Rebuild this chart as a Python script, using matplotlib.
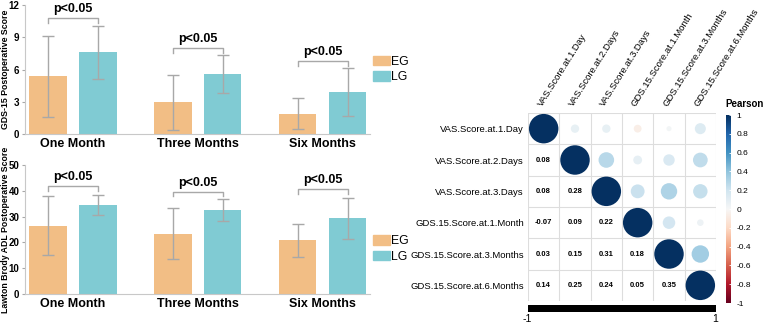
import numpy as np
import matplotlib
matplotlib.use('Agg')
import matplotlib.pyplot as plt
from matplotlib.patches import Patch, Circle, Rectangle
from matplotlib.colors import Normalize

plt.rcParams['font.family'] = ['Liberation Sans', 'DejaVu Sans']

# ---------- data ----------
timepoints = ['One Month', 'Three Months', 'Six Months']
groups = ['EG', 'LG']

gds_eg = [5.35, 2.95, 1.90]
gds_eg_sd = [3.77, 2.55, 1.44]
gds_lg = [7.60, 5.60, 3.92]
gds_lg_sd = [2.48, 1.74, 2.22]
gds_bracket = [10.8, 8.0, 6.8]

adl_eg = [26.4, 23.3, 20.9]
adl_eg_sd = [11.4, 9.85, 6.4]
adl_lg = [34.4, 32.6, 29.3]
adl_lg_sd = [3.85, 4.2, 8.1]
adl_bracket = [41.9, 39.7, 40.7]

var_names = ['VAS.Score.at.1.Day', 'VAS.Score.at.2.Days', 'VAS.Score.at.3.Days',
             'GDS.15.Score.at.1.Month', 'GDS.15.Score.at.3.Months', 'GDS.15.Score.at.6.Months']
lower_tri = [
    [],
    [0.08],
    [0.08, 0.28],
    [-0.07, 0.09, 0.22],
    [0.03, 0.15, 0.31, 0.18],
    [0.14, 0.25, 0.24, 0.05, 0.35],
]

EG_COLOR = '#F2BE85'
LG_COLOR = '#80CBD3'
GRAY = '#A8A8A8'

W, H = 767, 324
fig = plt.figure(figsize=(W / 100, H / 100), dpi=100)


def px_axes(x0, y0, x1, y1):
    return fig.add_axes([x0 / W, 1 - y1 / H, (x1 - x0) / W, (y1 - y0) / H])


def bar_panel(ax, eg, eg_sd, lg, lg_sd, brackets, ymax, yticks, ylabel, drop, txt_off, leg_y):
    x = np.arange(len(timepoints))
    w = 0.30
    off = 0.2
    ek = dict(ecolor=GRAY, elinewidth=1.0, capsize=4.3, capthick=1.0)
    ax.bar(x - off, eg, w, yerr=eg_sd, color=EG_COLOR, error_kw=ek, label='EG')
    ax.bar(x + off, lg, w, yerr=lg_sd, color=LG_COLOR, error_kw=ek, label='LG')
    for i, b in enumerate(brackets):
        ax.plot([i - off, i - off, i + off, i + off], [b - drop, b, b, b - drop],
                color=GRAY, lw=1.0)
        ax.text(i, b + txt_off, 'p<0.05', ha='center', va='bottom',
                fontsize=9, fontweight='bold')
    ax.set_xlim(-0.385, 2.38)
    ax.set_ylim(0, ymax)
    ax.set_yticks(yticks)
    ax.set_xticks(x)
    ax.set_xticklabels(timepoints, fontsize=9, fontweight='bold')
    ax.tick_params(axis='x', length=0, pad=3)
    ax.tick_params(axis='y', labelsize=7, length=2, color=GRAY, pad=2)
    for t in ax.get_yticklabels():
        t.set_fontweight('bold')
    for s in ['top', 'right']:
        ax.spines[s].set_visible(False)
    for s in ['left', 'bottom']:
        ax.spines[s].set_color('#C8C8C8')
        ax.spines[s].set_linewidth(0.8)
    ax.set_ylabel(ylabel, fontsize=6.3, fontweight='bold')
    ax.yaxis.set_label_coords(-15 / 345, 0.5)
    handles = [Patch(color=EG_COLOR), Patch(color=LG_COLOR)]
    ax.legend(handles, groups, loc='center left', bbox_to_anchor=(0.995, leg_y),
              frameon=False, fontsize=8.8, handlelength=1.4, handleheight=0.85,
              handletextpad=0.1, labelspacing=0.3, borderaxespad=0)


ax1 = px_axes(25, 5, 370, 134)
bar_panel(ax1, gds_eg, gds_eg_sd, gds_lg, gds_lg_sd, gds_bracket, 12,
          [0, 3, 6, 9, 12], 'GDS-15 Postoperative Score', 0.45, 0.25, 0.5)

ax2 = px_axes(25, 165, 370, 294)
bar_panel(ax2, adl_eg, adl_eg_sd, adl_lg, adl_lg_sd, adl_bracket, 50,
          [0, 10, 20, 30, 40, 50], 'Lawton Brody ADL Postoperative Score', 1.9, 1.0, 0.35)

# ---------- correlation plot ----------
n = len(var_names)
corr = np.eye(n)
for i, row in enumerate(lower_tri):
    for j, v in enumerate(row):
        corr[i, j] = v
        corr[j, i] = v

cmap = plt.get_cmap('RdBu')
norm = Normalize(-1, 1)

axc = px_axes(528, 113, 716, 301)
axc.set_xlim(0, n)
axc.set_ylim(n, 0)
for k in range(n + 1):
    axc.plot([k, k], [0, n], color='#DDDDDD', lw=0.8, zorder=1)
    axc.plot([0, n], [k, k], color='#DDDDDD', lw=0.8, zorder=1)
for i in range(n):
    for j in range(n):
        v = corr[i, j]
        if j >= i:
            r = 0.47 * np.sqrt(abs(v))
            axc.add_patch(Circle((j + 0.5, i + 0.5), r, color=cmap(norm(v)), lw=0, zorder=2))
        else:
            axc.text(j + 0.5, i + 0.5, f'{v:.2f}', ha='center', va='center',
                     fontsize=5.5, fontweight='bold')
axc.set_xticks([])
axc.set_yticks(np.arange(n) + 0.5)
axc.set_yticklabels(var_names, fontsize=6.8)
axc.tick_params(axis='y', length=0, pad=3)
for s in axc.spines.values():
    s.set_visible(False)
for j, name in enumerate(var_names):
    axc.text(j + 0.5, -0.15, name, rotation=58, ha='left', va='bottom',
             rotation_mode='anchor', fontsize=6.8)

# black bar below
axb = px_axes(528, 305, 716, 312)
axb.add_patch(Rectangle((0, 0), 1, 1, color='black'))
axb.set_xlim(0, 1)
axb.set_ylim(0, 1)
axb.axis('off')
fig.text(527 / W, 1 - 319 / H, '-1', ha='center', va='center', fontsize=7.5)
fig.text(715 / W, 1 - 319 / H, '1', ha='center', va='center', fontsize=7.5)

# colorbar
axcb = px_axes(726, 115, 731, 303)
grad = np.linspace(1, -1, 256).reshape(-1, 1)
axcb.imshow(grad, aspect='auto', cmap=cmap, norm=norm, extent=[0, 1, -1, 1])
axcb.set_xticks([])
axcb.yaxis.tick_right()
cb_ticks = [1, 0.8, 0.6, 0.4, 0.2, 0, -0.2, -0.4, -0.6, -0.8, -1]
axcb.set_yticks(cb_ticks)
axcb.set_yticklabels([f'{t:g}' for t in cb_ticks], fontsize=6)
axcb.tick_params(axis='y', length=1.5, width=0.6, color='white', pad=4, direction='in')
for s in axcb.spines.values():
    s.set_visible(False)
fig.text(745 / W, 1 - 104 / H, 'Pearson', ha='center', va='center', fontsize=7, fontweight='bold')

fig.savefig('out.png', dpi=100)
